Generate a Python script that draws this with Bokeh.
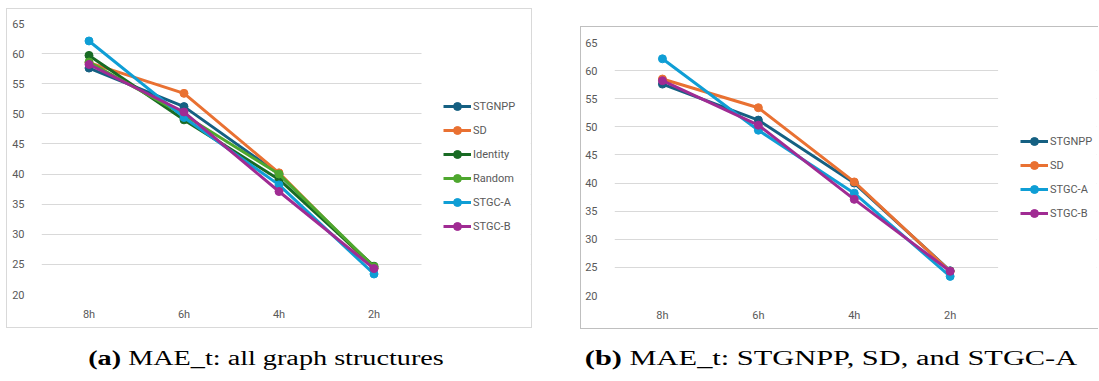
from bokeh.plotting import figure
from bokeh.models import (Legend, LegendItem, Div, Spacer, FixedTicker,
                          Range1d, BoxAnnotation)
from bokeh.layouts import row, column
from bokeh.embed import file_html
from bokeh.resources import INLINE

# ---------------- data ----------------
categories = ["8h", "6h", "4h", "2h"]
y_ticks = [20, 25, 30, 35, 40, 45, 50, 55, 60, 65]

stgnpp = [57.6, 51.2, 40.0, 24.4]
sd = [58.5, 53.4, 40.2, 24.3]
identity = [59.7, 49.0, 39.1, 24.7]
random_g = [58.6, 49.8, 40.0, 24.6]
stgc_a = [62.1, 49.4, 38.2, 23.4]
stgc_b = [58.2, 50.3, 37.1, 24.3]

series_values = {
    "STGNPP": stgnpp,
    "SD": sd,
    "Identity": identity,
    "Random": random_g,
    "STGC-A": stgc_a,
    "STGC-B": stgc_b,
}
series_colors = {
    "STGNPP": "#156082",
    "SD": "#E97132",
    "Identity": "#196B24",
    "Random": "#4EA72E",
    "STGC-A": "#0F9ED5",
    "STGC-B": "#A02B93",
}
names_a = ["STGNPP", "SD", "Identity", "Random", "STGC-A", "STGC-B"]
names_b = ["STGNPP", "SD", "STGC-A", "STGC-B"]

caption_a = "<b>(a)</b> MAE_t: all graph structures"
caption_b = "<b>(b)</b> MAE_t: STGNPP, SD, and STGC-A"

TXT = "#595959"
GRID = "#D9D9D9"

# category slots on the axis (one unit per category, centred in its slot)
xpos = [i + 0.5 for i in range(len(categories))]
n_cat = len(categories)


def make_panel(names, w, h, bl, br, bt, bb, x_end, loc, shadow):
    p = figure(x_range=Range1d(0, x_end), y_range=Range1d(20, 65),
               width=w, height=h,
               output_backend="svg", toolbar_location=None,
               min_border_left=bl, min_border_right=br,
               min_border_top=bt, min_border_bottom=bb,
               border_fill_alpha=0, background_fill_alpha=0,
               outline_line_color=None,
               styles={"box-shadow": shadow})
    p.xgrid.grid_line_color = None
    p.ygrid.grid_line_color = GRID
    p.ygrid.grid_line_width = 1
    p.yaxis.ticker = FixedTicker(ticks=y_ticks)
    p.ygrid.ticker = FixedTicker(ticks=y_ticks)
    p.xaxis.ticker = FixedTicker(ticks=xpos)
    p.xaxis.major_label_overrides = {x: c for x, c in zip(xpos, categories)}
    for ax in (p.xaxis[0], p.yaxis[0]):
        ax.major_tick_line_color = None
        ax.minor_tick_line_color = None
        ax.major_label_text_font = "Roboto"
        ax.major_label_text_font_size = "11px"
        ax.major_label_text_color = TXT
        ax.axis_line_color = None
    p.yaxis.major_label_standoff = 11
    p.xaxis.major_label_standoff = 7

    items = []
    for n in names:
        c = series_colors[n]
        r1 = p.line(xpos, series_values[n], line_color=c, line_width=3)
        r2 = p.scatter(xpos, series_values[n], marker="circle", size=8,
                       fill_color=c, line_color=c)
        items.append(LegendItem(label=n, renderers=[r1, r2]))
    # blank out the gridlines in the legend area (right of the last category)
    p.add_layout(BoxAnnotation(left=n_cat, fill_color="white", fill_alpha=1,
                               line_color=None))
    leg = Legend(items=items, location=loc, orientation="vertical",
                 glyph_width=28, glyph_height=20, label_height=20,
                 label_standoff=2, spacing=4, padding=0, margin=0,
                 border_line_color=None, background_fill_alpha=0,
                 label_text_font="Roboto", label_text_font_size="11px",
                 label_text_color=TXT)
    p.add_layout(leg, "center")
    return p


p1 = make_panel(names_a, 526, 320, 35, 2, 15, 34, 489 / 95.0, (402, 58),
                "inset 0 0 0 1px #D9D9D9")
p2 = make_panel(names_b, 518, 303, 34, 2, 16, 34, 482 / 95.9, (406, 72),
                "inset 1px 1px 0 0 #BFBFBF, inset 0 -1px 0 0 #BFBFBF")

cap_style = ("text-align:center; font-family:'Liberation Serif'; font-size:20px; "
             "line-height:20px; color:#000; white-space:nowrap; position:relative; top:-6px; "
             "transform-origin:center; ")
d1 = Div(text=f'<div style="{cap_style} transform:scaleX(1.41); width:510px;">{caption_a}</div>',
         width=510, height=14, styles={"overflow": "visible"})
d2 = Div(text=f'<div style="{cap_style} transform:scaleX(1.52); width:520px;">{caption_b}</div>',
         width=520, height=14, styles={"overflow": "visible"})

layout = column(
    Spacer(height=8),
    row(Spacer(width=6), p1, Spacer(width=48), column(Spacer(height=18), p2)),
    Spacer(height=20),
    row(Spacer(width=6), d1, Spacer(width=40), d2),
)

open("out.html", "w").write(file_html(layout, INLINE))
